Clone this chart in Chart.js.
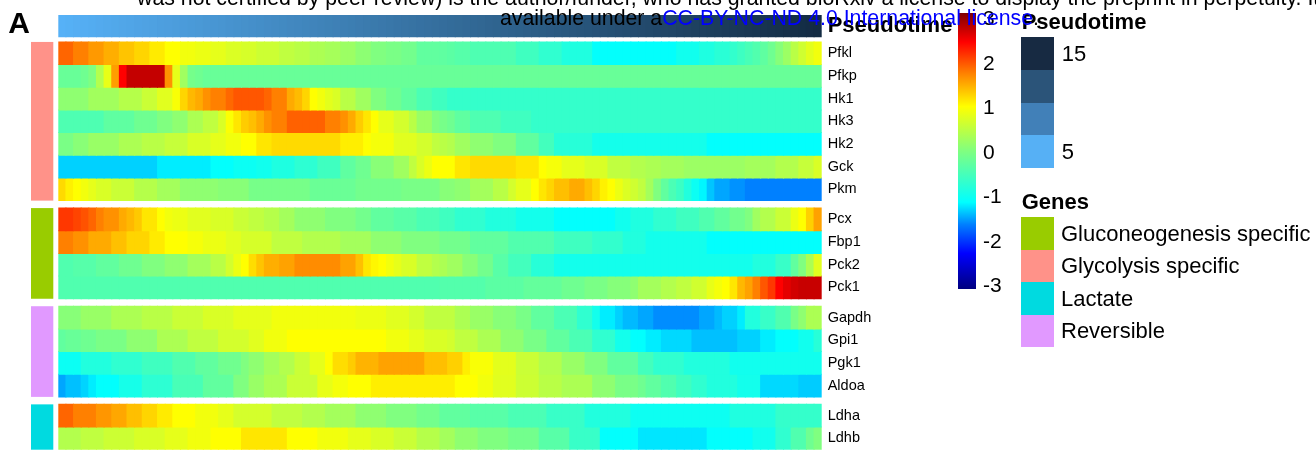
<!DOCTYPE html>
<html>
<head>
<meta charset="utf-8">
<script src="https://cdn.jsdelivr.net/npm/chart.js@4.4.1/dist/chart.umd.min.js"></script>
<style>
  html, body { margin: 0; padding: 0; background: #fff; width: 1316px; height: 452px; overflow: hidden;
    font-family: "Liberation Sans", Arial, Helvetica, sans-serif; }
  #wrap { position: relative; width: 1316px; height: 452px; overflow: hidden; }
  #c { position: absolute; left: 0; top: 0; }
  .t { position: absolute; white-space: nowrap; line-height: 1; color: #000; }
  .box { position: absolute; }
</style>
</head>
<body>
<div id="wrap">
  <canvas id="c" width="1316" height="452"></canvas>
</div>
<script>
// Pseudotime of each of the 100 bins (columns)
const pseudotime = [
  0.2, 0.4, 0.6, 0.8, 1.0, 1.2, 1.4, 1.6, 1.8, 2.0,
  2.2, 2.4, 2.6, 2.8, 3.0, 3.2, 3.4, 3.6, 3.8, 4.0,
  4.2, 4.4, 4.6, 4.8, 5.0, 5.2, 5.4, 5.6, 5.8, 6.0,
  6.2, 6.4, 6.6, 6.8, 7.0, 7.2, 7.4, 7.6, 7.8, 8.0,
  8.2, 8.4, 8.6, 8.8, 9.0, 9.2, 9.4, 9.6, 9.8, 10.0,
  10.2, 10.4, 10.6, 10.8, 11.0, 11.2, 11.4, 11.6, 11.8, 12.0,
  12.2, 12.4, 12.6, 12.8, 13.0, 13.2, 13.4, 13.6, 13.8, 14.0,
  14.2, 14.4, 14.6, 14.8, 15.0, 15.2, 15.4, 15.6, 15.8, 16.0,
  16.2, 16.4, 16.6, 16.8, 17.0, 17.2, 17.4, 17.6, 17.8, 18.0,
  18.2, 18.4, 18.6, 18.8, 19.0, 19.2, 19.4, 19.6, 19.8, 20.0
];

// Scaled expression along pseudotime, one array per gene
const Pfkl = [
  1.9, 1.9, 1.75, 1.75, 1.6, 1.6, 1.48, 1.48, 1.35, 1.35,
  1.25, 1.25, 1.12, 1.12, 1.0, 1.0, 0.9, 0.9, 0.85, 0.85,
  0.8, 0.8, 0.72, 0.72, 0.68, 0.68, 0.6, 0.6, 0.6, 0.5,
  0.5, 0.45, 0.45, 0.35, 0.35, 0.3, 0.3, 0.22, 0.22, 0.1,
  0.1, 0.0, 0.0, -0.05, -0.05, -0.12, -0.12, -0.28, -0.28, -0.28,
  -0.3, -0.33, -0.38, -0.38, -0.45, -0.45, -0.45, -0.45, -0.45, -0.45,
  -0.58, -0.58, -0.58, -0.72, -0.72, -0.72, -0.87, -0.87, -0.87, -0.87,
  -1.12, -1.12, -1.12, -1.12, -1.12, -1.12, -1.12, -1.12, -1.12, -1.12,
  -1.12, -1.0, -1.0, -1.0, -0.88, -0.88, -0.78, -0.78, -0.7, -0.6,
  -0.5, -0.42, -0.3, -0.15, 0.05, 0.22, 0.45, 0.62, 0.78, 0.9
];
const Pfkp = [
  -0.22, -0.22, -0.22, -0.15, -0.02, 0.4, 0.82, 1.58, 2.45, 2.75,
  2.75, 2.75, 2.75, 2.75, 1.65, 0.8, 0.25, -0.1, -0.15, -0.22,
  -0.22, -0.22, -0.22, -0.22, -0.22, -0.22, -0.22, -0.22, -0.22, -0.22,
  -0.22, -0.22, -0.22, -0.22, -0.22, -0.22, -0.22, -0.22, -0.22, -0.22,
  -0.22, -0.22, -0.22, -0.22, -0.22, -0.22, -0.22, -0.22, -0.22, -0.22,
  -0.22, -0.22, -0.22, -0.22, -0.22, -0.22, -0.22, -0.22, -0.22, -0.22,
  -0.22, -0.22, -0.22, -0.22, -0.22, -0.22, -0.22, -0.22, -0.22, -0.22,
  -0.22, -0.22, -0.22, -0.22, -0.22, -0.22, -0.22, -0.22, -0.22, -0.22,
  -0.22, -0.22, -0.22, -0.22, -0.22, -0.22, -0.22, -0.22, -0.22, -0.22,
  -0.22, -0.22, -0.22, -0.22, -0.22, -0.22, -0.22, -0.22, -0.22, -0.22
];
const Hk1 = [
  0.12, 0.12, 0.12, 0.12, 0.27, 0.27, 0.27, 0.27, 0.42, 0.42,
  0.42, 0.58, 0.58, 0.76, 0.76, 0.95, 1.25, 1.42, 1.5, 1.65,
  1.75, 1.75, 1.88, 1.98, 1.98, 1.98, 1.98, 1.9, 1.75, 1.75,
  1.5, 1.4, 1.25, 1.0, 0.9, 0.78, 0.7, 0.45, 0.45, 0.25,
  0.25, 0.0, 0.0, -0.15, -0.15, -0.3, -0.3, -0.48, -0.48, -0.58,
  -0.58, -0.68, -0.68, -0.68, -0.68, -0.68, -0.68, -0.68, -0.68, -0.68,
  -0.68, -0.68, -0.68, -0.68, -0.68, -0.68, -0.68, -0.68, -0.68, -0.68,
  -0.68, -0.68, -0.68, -0.68, -0.68, -0.68, -0.68, -0.68, -0.68, -0.68,
  -0.68, -0.68, -0.68, -0.68, -0.68, -0.68, -0.68, -0.68, -0.68, -0.68,
  -0.68, -0.68, -0.68, -0.68, -0.68, -0.68, -0.68, -0.68, -0.68, -0.68
];
const Hk3 = [
  -0.45, -0.45, -0.45, -0.45, -0.45, -0.45, -0.3, -0.3, -0.3, -0.3,
  -0.15, -0.15, -0.15, 0.0, 0.0, 0.12, 0.12, 0.35, 0.35, 0.5,
  0.5, 0.7, 0.98, 1.15, 1.3, 1.38, 1.5, 1.65, 1.75, 1.75,
  1.92, 1.92, 1.92, 1.92, 1.92, 1.75, 1.75, 1.65, 1.5, 1.3,
  1.15, 1.0, 0.8, 0.8, 0.65, 0.65, 0.45, 0.2, 0.2, 0.0,
  -0.08, -0.15, -0.3, -0.3, -0.45, -0.45, -0.45, -0.45, -0.58, -0.58,
  -0.58, -0.58, -0.68, -0.68, -0.68, -0.68, -0.68, -0.68, -0.68, -0.68,
  -0.68, -0.68, -0.68, -0.68, -0.68, -0.68, -0.68, -0.68, -0.68, -0.68,
  -0.68, -0.68, -0.68, -0.68, -0.68, -0.68, -0.68, -0.68, -0.68, -0.68,
  -0.68, -0.68, -0.68, -0.68, -0.68, -0.68, -0.68, -0.68, -0.68, -0.68
];
const Hk2 = [
  -0.05, -0.05, 0.07, 0.07, 0.2, 0.2, 0.2, 0.2, 0.35, 0.35,
  0.35, 0.45, 0.45, 0.45, 0.55, 0.55, 0.55, 0.7, 0.7, 0.7,
  0.8, 0.8, 0.9, 0.9, 1.0, 1.0, 1.15, 1.15, 1.22, 1.22,
  1.22, 1.22, 1.22, 1.22, 1.22, 1.22, 1.22, 1.1, 1.1, 1.1,
  1.0, 0.92, 0.92, 0.92, 0.76, 0.76, 0.76, 0.65, 0.65, 0.5,
  0.45, 0.4, 0.25, 0.25, 0.12, 0.12, 0.12, 0.0, 0.0, 0.0,
  -0.28, -0.28, -0.28, -0.55, -0.55, -0.8, -0.8, -0.8, -0.8, -0.8,
  -0.97, -0.97, -0.97, -0.97, -0.97, -0.97, -0.97, -0.97, -0.97, -0.97,
  -0.97, -0.97, -0.97, -0.97, -0.97, -1.13, -1.13, -1.13, -1.13, -1.13,
  -1.13, -1.13, -1.13, -1.13, -1.13, -1.13, -1.13, -1.13, -1.13, -1.13
];
const Gck = [
  -1.33, -1.33, -1.33, -1.33, -1.33, -1.33, -1.33, -1.33, -1.33, -1.33,
  -1.33, -1.33, -1.33, -1.22, -1.22, -1.22, -1.22, -1.22, -1.22, -1.22,
  -1.13, -1.13, -1.13, -1.05, -1.05, -1.05, -1.0, -1.0, -0.88, -0.88,
  -0.88, -0.75, -0.75, -0.75, -0.58, -0.58, -0.58, -0.3, -0.3, -0.15,
  -0.15, 0.07, 0.07, 0.07, 0.25, 0.25, 0.5, 0.7, 0.85, 1.0,
  1.0, 1.0, 1.15, 1.15, 1.22, 1.22, 1.22, 1.22, 1.22, 1.22,
  1.15, 1.15, 1.15, 1.0, 0.93, 0.93, 0.8, 0.8, 0.8, 0.7,
  0.7, 0.7, 0.5, 0.5, 0.5, 0.4, 0.4, 0.35, 0.35, 0.28,
  0.28, 0.28, 0.22, 0.22, 0.22, 0.22, 0.22, 0.22, 0.22, 0.22,
  0.28, 0.28, 0.28, 0.28, 0.4, 0.4, 0.4, 0.55, 0.55, 0.7
];
const Pkm = [
  1.22, 1.08, 1.0, 0.9, 0.8, 0.7, 0.7, 0.58, 0.58, 0.58,
  0.42, 0.42, 0.42, 0.28, 0.28, 0.28, 0.12, 0.12, 0.12, 0.12,
  0.12, 0.06, 0.06, 0.06, 0.06, -0.08, -0.08, -0.08, -0.08, -0.08,
  -0.08, -0.08, -0.08, -0.2, -0.2, -0.2, -0.2, -0.2, -0.2, -0.12,
  -0.12, -0.12, -0.12, -0.12, -0.12, -0.06, -0.06, -0.06, -0.06, -0.06,
  0.06, 0.06, 0.12, 0.12, 0.28, 0.28, 0.28, 0.45, 0.45, 0.65,
  0.8, 0.8, 1.0, 1.15, 1.25, 1.38, 1.38, 1.5, 1.5, 1.38,
  1.25, 1.08, 1.0, 0.85, 0.72, 0.62, 0.5, 0.28, 0.0, -0.28,
  -0.48, -0.62, -0.85, -1.05, -1.18, -1.38, -1.5, -1.5, -1.58, -1.58,
  -1.65, -1.65, -1.65, -1.65, -1.65, -1.65, -1.65, -1.65, -1.65, -1.65
];
const Pcx = [
  2.15, 2.15, 2.08, 2.0, 1.9, 1.75, 1.65, 1.65, 1.5, 1.42,
  1.32, 1.15, 1.15, 1.0, 0.9, 0.85, 0.85, 0.76, 0.76, 0.76,
  0.7, 0.7, 0.7, 0.58, 0.58, 0.5, 0.5, 0.42, 0.42, 0.28,
  0.28, 0.12, 0.12, 0.12, 0.12, 0.0, 0.0, 0.0, 0.0, -0.12,
  -0.12, -0.28, -0.28, -0.28, -0.36, -0.36, -0.36, -0.48, -0.48, -0.48,
  -0.58, -0.58, -0.72, -0.72, -0.72, -0.72, -0.85, -0.85, -0.85, -0.85,
  -0.98, -0.98, -0.98, -0.98, -0.98, -1.13, -1.13, -1.13, -1.13, -1.13,
  -1.13, -1.13, -1.13, -1.0, -1.0, -0.87, -0.87, -0.87, -0.72, -0.72,
  -0.72, -0.58, -0.58, -0.58, -0.43, -0.43, -0.28, -0.28, -0.13, -0.13,
  0.0, 0.25, 0.4, 0.4, 0.58, 0.58, 0.85, 1.0, 1.28, 1.55
];
const Fbp1 = [
  1.75, 1.75, 1.65, 1.65, 1.5, 1.5, 1.5, 1.37, 1.37, 1.25,
  1.25, 1.25, 1.12, 1.12, 1.0, 1.0, 1.0, 0.93, 0.93, 0.85,
  0.85, 0.85, 0.76, 0.76, 0.68, 0.68, 0.68, 0.68, 0.5, 0.5,
  0.5, 0.5, 0.4, 0.4, 0.4, 0.4, 0.4, 0.28, 0.28, 0.28,
  0.28, 0.12, 0.12, 0.12, 0.12, 0.0, 0.0, 0.0, 0.0, 0.0,
  -0.12, -0.12, -0.12, -0.12, -0.28, -0.28, -0.28, -0.28, -0.28, -0.42,
  -0.42, -0.42, -0.42, -0.42, -0.42, -0.58, -0.58, -0.58, -0.58, -0.58,
  -0.7, -0.7, -0.7, -0.7, -0.85, -0.85, -0.85, -0.98, -0.98, -0.98,
  -0.98, -0.98, -0.98, -0.98, -0.98, -1.13, -1.13, -1.13, -1.13, -1.13,
  -1.13, -1.13, -1.13, -1.13, -1.13, -1.13, -1.13, -1.13, -1.13, -1.13
];
const Pck2 = [
  -0.43, -0.43, -0.38, -0.38, -0.38, -0.28, -0.28, -0.28, -0.15, -0.15,
  -0.15, 0.0, 0.0, 0.0, 0.12, 0.12, 0.12, 0.28, 0.28, 0.28,
  0.45, 0.45, 0.65, 0.85, 1.0, 1.2, 1.35, 1.48, 1.48, 1.55,
  1.55, 1.68, 1.68, 1.68, 1.68, 1.68, 1.68, 1.55, 1.55, 1.37,
  1.15, 1.05, 1.0, 0.9, 0.8, 0.7, 0.7, 0.5, 0.5, 0.4,
  0.35, 0.25, 0.25, 0.06, 0.06, -0.12, -0.12, -0.36, -0.36, -0.55,
  -0.55, -0.55, -0.8, -0.8, -0.8, -0.98, -0.98, -0.98, -0.98, -0.98,
  -0.98, -0.98, -0.98, -0.98, -0.98, -0.98, -0.98, -0.98, -0.98, -0.98,
  -0.98, -0.98, -0.98, -0.98, -0.98, -0.98, -0.98, -0.98, -0.98, -0.98,
  -0.98, -0.85, -0.85, -0.85, -0.65, -0.65, -0.28, 0.0, 0.35, 0.76
];
const Pck1 = [
  -0.43, -0.43, -0.43, -0.43, -0.43, -0.43, -0.43, -0.43, -0.43, -0.43,
  -0.43, -0.43, -0.43, -0.43, -0.43, -0.43, -0.43, -0.43, -0.43, -0.43,
  -0.43, -0.43, -0.43, -0.43, -0.43, -0.43, -0.43, -0.43, -0.43, -0.43,
  -0.43, -0.43, -0.43, -0.43, -0.43, -0.43, -0.43, -0.43, -0.43, -0.43,
  -0.43, -0.43, -0.43, -0.43, -0.43, -0.43, -0.43, -0.43, -0.43, -0.43,
  -0.4, -0.4, -0.4, -0.4, -0.4, -0.4, -0.33, -0.33, -0.33, -0.33,
  -0.33, -0.25, -0.25, -0.25, -0.25, -0.25, -0.15, -0.15, -0.15, -0.05,
  -0.05, -0.05, 0.05, 0.05, 0.05, 0.12, 0.28, 0.28, 0.28, 0.4,
  0.4, 0.5, 0.5, 0.63, 0.63, 0.82, 0.92, 1.0, 1.15, 1.42,
  1.55, 1.75, 1.98, 2.15, 2.45, 2.58, 2.68, 2.73, 2.73, 2.73
];
const Gapdh = [
  0.06, 0.06, 0.06, 0.2, 0.2, 0.2, 0.2, 0.35, 0.35, 0.35,
  0.35, 0.45, 0.45, 0.45, 0.45, 0.58, 0.58, 0.58, 0.58, 0.7,
  0.7, 0.7, 0.7, 0.8, 0.8, 0.8, 0.8, 0.8, 0.9, 0.9,
  0.9, 0.9, 0.9, 0.9, 0.9, 0.9, 0.9, 0.9, 0.9, 0.85,
  0.85, 0.85, 0.85, 0.76, 0.76, 0.76, 0.65, 0.65, 0.5, 0.5,
  0.5, 0.5, 0.35, 0.35, 0.2, 0.2, 0.2, 0.06, 0.06, 0.06,
  -0.06, -0.06, -0.28, -0.28, -0.28, -0.48, -0.48, -0.48, -0.72, -0.72,
  -0.98, -1.22, -1.22, -1.33, -1.42, -1.42, -1.5, -1.5, -1.6, -1.6,
  -1.6, -1.6, -1.6, -1.6, -1.5, -1.5, -1.42, -1.33, -1.33, -1.22,
  -0.85, -0.85, -0.65, -0.65, -0.43, -0.43, -0.06, 0.12, 0.35, 0.35
];
const Gpi1 = [
  -0.28, -0.22, -0.22, -0.15, -0.15, -0.05, -0.05, -0.05, -0.05, 0.12,
  0.12, 0.12, 0.12, 0.35, 0.35, 0.35, 0.35, 0.5, 0.5, 0.5,
  0.5, 0.65, 0.65, 0.65, 0.65, 0.76, 0.76, 0.9, 0.9, 0.9,
  1.0, 1.0, 1.0, 1.0, 1.0, 1.0, 1.0, 1.0, 1.0, 1.0,
  1.0, 1.0, 1.0, 0.9, 0.9, 0.9, 0.8, 0.8, 0.7, 0.7,
  0.7, 0.65, 0.5, 0.5, 0.5, 0.35, 0.35, 0.35, 0.12, 0.12,
  0.12, -0.06, -0.06, -0.06, -0.28, -0.28, -0.28, -0.48, -0.48, -0.48,
  -0.72, -0.72, -0.72, -0.98, -0.98, -1.13, -1.13, -1.22, -1.22, -1.3,
  -1.3, -1.3, -1.3, -1.4, -1.4, -1.4, -1.4, -1.4, -1.4, -1.33,
  -1.33, -1.33, -1.22, -1.22, -1.13, -1.13, -1.13, -1.0, -1.0, -0.8
];
const Pgk1 = [
  -1.05, -1.05, -1.05, -0.85, -0.85, -0.85, -0.85, -0.72, -0.72, -0.72,
  -0.72, -0.58, -0.58, -0.58, -0.58, -0.43, -0.43, -0.43, -0.28, -0.28,
  -0.28, -0.14, -0.14, -0.14, 0.0, 0.12, 0.12, 0.28, 0.28, 0.4,
  0.4, 0.58, 0.58, 0.8, 0.8, 1.0, 1.2, 1.2, 1.3, 1.45,
  1.45, 1.45, 1.55, 1.55, 1.55, 1.55, 1.55, 1.55, 1.38, 1.38,
  1.38, 1.28, 1.28, 1.1, 0.95, 0.95, 0.95, 0.78, 0.78, 0.78,
  0.58, 0.58, 0.58, 0.4, 0.4, 0.4, 0.2, 0.2, 0.2, 0.0,
  0.0, 0.0, -0.28, -0.28, -0.28, -0.28, -0.55, -0.55, -0.72, -0.72,
  -0.72, -0.72, -0.85, -0.85, -0.85, -0.85, -0.85, -0.85, -1.0, -1.0,
  -1.0, -1.0, -1.0, -1.0, -1.0, -1.0, -1.0, -1.0, -1.0, -1.0
];
const Aldoa = [
  -1.5, -1.4, -1.4, -1.32, -1.22, -1.13, -1.13, -1.13, -0.95, -0.95,
  -0.95, -0.75, -0.75, -0.75, -0.75, -0.5, -0.5, -0.5, -0.5, -0.28,
  -0.28, -0.28, -0.28, 0.0, 0.0, 0.2, 0.2, 0.35, 0.35, 0.35,
  0.58, 0.58, 0.58, 0.58, 0.82, 0.82, 0.92, 0.92, 1.0, 1.0,
  1.0, 1.1, 1.1, 1.1, 1.1, 1.1, 1.1, 1.1, 1.1, 1.1,
  1.1, 1.1, 1.0, 1.0, 1.0, 0.9, 0.9, 0.76, 0.76, 0.76,
  0.6, 0.6, 0.6, 0.45, 0.45, 0.45, 0.35, 0.35, 0.35, 0.35,
  0.12, 0.12, 0.12, -0.06, -0.06, -0.06, -0.15, -0.28, -0.28, -0.43,
  -0.43, -0.58, -0.58, -0.72, -0.72, -0.85, -0.85, -0.85, -0.85, -0.98,
  -0.98, -0.98, -1.3, -1.3, -1.3, -1.3, -1.3, -1.35, -1.35, -1.35
];
const Ldha = [
  1.9, 1.9, 1.75, 1.75, 1.75, 1.62, 1.62, 1.52, 1.52, 1.38,
  1.38, 1.25, 1.25, 1.12, 1.12, 1.0, 1.0, 1.0, 0.9, 0.9,
  0.9, 0.8, 0.8, 0.66, 0.66, 0.66, 0.66, 0.66, 0.5, 0.5,
  0.5, 0.5, 0.4, 0.4, 0.4, 0.28, 0.28, 0.28, 0.28, 0.12,
  0.12, 0.12, 0.12, 0.0, 0.0, 0.0, 0.0, -0.12, -0.12, -0.12,
  -0.28, -0.28, -0.28, -0.28, -0.36, -0.36, -0.36, -0.36, -0.36, -0.48,
  -0.48, -0.48, -0.48, -0.48, -0.65, -0.65, -0.65, -0.65, -0.65, -0.85,
  -0.85, -0.85, -0.85, -0.85, -0.85, -1.03, -1.03, -1.03, -1.03, -1.03,
  -1.03, -1.03, -1.03, -1.03, -1.03, -1.03, -1.03, -1.03, -0.87, -0.87,
  -0.87, -0.87, -0.87, -0.87, -0.68, -0.68, -0.68, -0.68, -0.68, -0.68
];
const Ldhb = [
  0.4, 0.4, 0.4, 0.5, 0.5, 0.5, 0.6, 0.6, 0.6, 0.6,
  0.7, 0.7, 0.7, 0.7, 0.8, 0.8, 0.8, 0.9, 0.9, 0.9,
  1.0, 1.0, 1.0, 1.0, 1.15, 1.15, 1.15, 1.15, 1.15, 1.15,
  1.0, 1.0, 1.0, 1.0, 0.9, 0.9, 0.9, 0.9, 0.8, 0.8,
  0.8, 0.7, 0.7, 0.7, 0.58, 0.58, 0.58, 0.42, 0.42, 0.42,
  0.28, 0.28, 0.12, 0.12, 0.12, 0.0, 0.0, 0.0, 0.0, -0.12,
  -0.12, -0.12, -0.12, -0.36, -0.36, -0.36, -0.36, -0.65, -0.65, -0.65,
  -0.65, -1.13, -1.13, -1.13, -1.13, -1.13, -1.25, -1.25, -1.25, -1.25,
  -1.25, -1.25, -1.25, -1.25, -1.25, -1.13, -1.13, -1.13, -1.13, -1.13,
  -1.13, -1.0, -1.0, -1.0, -0.72, -0.72, -0.43, -0.43, -0.15, 0.0
];

// Gene sets, in drawing order
const glycolysisGenes = ['Pfkl', 'Pfkp', 'Hk1', 'Hk3', 'Hk2', 'Gck', 'Pkm'];
const gluconeogenesisGenes = ['Pcx', 'Fbp1', 'Pck2', 'Pck1'];
const reversibleGenes = ['Gapdh', 'Gpi1', 'Pgk1', 'Aldoa'];
const lactateGenes = ['Ldha', 'Ldhb'];

// Legend entries
const geneSetNames = ['Gluconeogenesis specific', 'Glycolysis specific', 'Lactate', 'Reversible'];
const geneSetColors = ['#99CC00', '#FF9289', '#00DAE0', '#E199FF'];
const scaleTicks = [3, 2, 1, 0, -1, -2, -3];
const pseudotimeKeyLabels = ['15', '', '', '5'];
const pseudotimeKeyColors = ['#172A42', '#2B5479', '#4180B8', '#56B0F5'];

const series = { Pfkl, Pfkp, Hk1, Hk3, Hk2, Gck, Pkm, Pcx, Fbp1, Pck2, Pck1,
                 Gapdh, Gpi1, Pgk1, Aldoa, Ldha, Ldhb };

// ---- colour scales ----
const heatStops = [
  [-3.1, '#00007F'], [-2.3, '#0000FF'], [-1.65, '#0080FF'], [-1.15, '#00FFFF'],
  [0, '#80FF80'], [1, '#FFFF00'], [1.75, '#FF8000'], [2.45, '#FF0000'], [3.1, '#7F0000']
];
function hexToRgb(h) { const n = parseInt(h.slice(1), 16); return [(n >> 16) & 255, (n >> 8) & 255, n & 255]; }
function mix(a, b, t) { return a.map((v, i) => Math.round(v + (b[i] - v) * t)); }
function heatColor(v) {
  const s = heatStops;
  if (v <= s[0][0]) return s[0][1];
  for (let i = 1; i < s.length; i++) {
    if (v <= s[i][0]) {
      const t = (v - s[i - 1][0]) / (s[i][0] - s[i - 1][0]);
      return 'rgb(' + mix(hexToRgb(s[i - 1][1]), hexToRgb(s[i][1]), t).join(',') + ')';
    }
  }
  return s[s.length - 1][1];
}
const ptMin = Math.min(...pseudotime), ptMax = Math.max(...pseudotime);
function pseudotimeColor(p) {
  const t = (p - ptMin) / (ptMax - ptMin);
  return 'rgb(' + mix(hexToRgb('#56B1F7'), hexToRgb('#132B43'), t).join(',') + ')';
}

// ---- row layout (in row units along the y axis) ----
const ANNOT_H = 0.956, ANNOT_GAP = 0.233, ROW_H = 1, BLOCK_GAP = 0.33;
const blocks = [
  { genes: glycolysisGenes, color: geneSetColors[1] },
  { genes: gluconeogenesisGenes, color: geneSetColors[0] },
  { genes: reversibleGenes, color: geneSetColors[3] },
  { genes: lactateGenes, color: geneSetColors[2] }
];
const rows = [], spans = [];
let cursor = ANNOT_H + ANNOT_GAP;
blocks.forEach((b, bi) => {
  const start = cursor;
  b.genes.forEach(g => { rows.push({ gene: g, top: cursor }); cursor += ROW_H; });
  spans.push({ top: start, bottom: cursor, color: b.color });
  if (bi < blocks.length - 1) cursor += BLOCK_GAP;
});
const yMax = cursor;

const tickCenters = [ANNOT_H / 2].concat(rows.map(r => r.top + ROW_H / 2));
const tickNames = ['Pseudotime'].concat(rows.map(r => r.gene));

const datasets = [{
  label: 'Pseudotime',
  data: pseudotime.map(() => [0, ANNOT_H]),
  backgroundColor: c => pseudotimeColor(pseudotime[c.dataIndex])
}].concat(rows.map(r => {
  const vals = series[r.gene];
  return {
    label: r.gene,
    data: vals.map(() => [r.top, r.top + ROW_H]),
    backgroundColor: c => heatColor(vals[c.dataIndex])
  };
}));

// coloured gene-set strips to the left of the heatmap
const geneSetStrips = {
  id: 'geneSetStrips',
  afterDatasetsDraw(chart) {
    const y = chart.scales.y, ctx = chart.ctx, left = chart.chartArea.left;
    ctx.save();
    spans.forEach(s => {
      const t = y.getPixelForValue(s.top), b = y.getPixelForValue(s.bottom);
      ctx.fillStyle = s.color;
      ctx.fillRect(left - 27.3, t, 22.3, b - t);
    });
    ctx.restore();
  }
};

Chart.defaults.font.family = "'Liberation Sans', Arial, Helvetica, sans-serif";
new Chart(document.getElementById('c'), {
  type: 'bar',
  data: { labels: pseudotime.map(String), datasets },
  options: {
    responsive: false,
    animation: false,
    devicePixelRatio: 1,
    layout: { padding: { left: 58.3, right: 344.3, top: 15, bottom: 2.3 } },
    datasets: { bar: { grouped: false, barPercentage: 1, categoryPercentage: 1, borderWidth: 0, inflateAmount: 0.5 } },
    plugins: { legend: { display: false }, tooltip: { enabled: false } },
    scales: {
      x: { type: 'category', display: false },
      y: {
        type: 'linear', position: 'right', reverse: true, min: 0, max: yMax,
        grid: { display: false, drawTicks: false }, border: { display: false },
        afterBuildTicks: s => { s.ticks = tickCenters.map(v => ({ value: v })); },
        afterFit: s => { s.width = 150; s.paddingTop = 0; s.paddingBottom = 0; },
        ticks: {
          autoSkip: false, padding: 6, color: '#000',
          font: c => c.index === 0 ? { size: 22, weight: 'bold' } : { size: 14.5 },
          callback: (v, i) => tickNames[i]
        }
      }
    }
  },
  plugins: [geneSetStrips]
});

// ---- text and legends ----
const wrap = document.getElementById('wrap');
function text(str, left, baseline, size, opts = {}) {
  const el = document.createElement('div');
  el.className = 't';
  el.style.left = left + 'px';
  el.style.top = (baseline - 0.8465 * size) + 'px';
  el.style.fontSize = size + 'px';
  if (opts.bold) el.style.fontWeight = 'bold';
  if (opts.html) el.innerHTML = str; else el.textContent = str;
  wrap.appendChild(el);
  return el;
}
function box(left, top, w, h, bg) {
  const el = document.createElement('div');
  el.className = 'box';
  Object.assign(el.style, { left: left + 'px', top: top + 'px', width: w + 'px', height: h + 'px', background: bg });
  wrap.appendChild(el);
  return el;
}

// panel letter
text('A', 8.3, 33.3, 30, { bold: true });

// expression colour bar
const barTop = 13, barH = 276, vHi = 3.1, vLo = -3.1;
const grad = heatStops.slice().reverse()
  .map(s => s[1] + ' ' + ((vHi - s[0]) / (vHi - vLo) * 100).toFixed(2) + '%').join(', ');
box(957.7, barTop, 18.3, barH, 'linear-gradient(to bottom, ' + grad + ')');
scaleTicks.forEach(v => {
  const yc = barTop + (vHi - v) / (vHi - vLo) * barH;
  text(String(v), 983, yc + 7.5, 21);
});

// pseudotime key
text('Pseudotime', 1021.7, 29.5, 22, { bold: true });
pseudotimeKeyColors.forEach((c, i) => {
  const top = 37.3 + i * 32.6;
  box(1021, top, 33, 32.7, c);
  if (pseudotimeKeyLabels[i]) text(pseudotimeKeyLabels[i], 1061.7, top + 16.3 + 7.9, 22);
});

// gene-set key
text('Genes', 1021.7, 209.3, 22, { bold: true });
geneSetNames.forEach((n, i) => {
  const top = 217.3 + i * 32.5;
  box(1021, top, 33, 32.6, geneSetColors[i]);
  text(n, 1061, top + 16.2 + 7.9, 22);
});

// licence stamp across the top
text('was not certified by peer review) is the author/funder, who has granted bioRxiv a license to display the preprint in perpetuity. It is made', 137, 6.5, 21.3);
text('available under a<span style="color:#0000FF">CC-BY-NC-ND 4.0 International license</span>.', 500, 26.5, 21.3, { html: true });
</script>
</body>
</html>
